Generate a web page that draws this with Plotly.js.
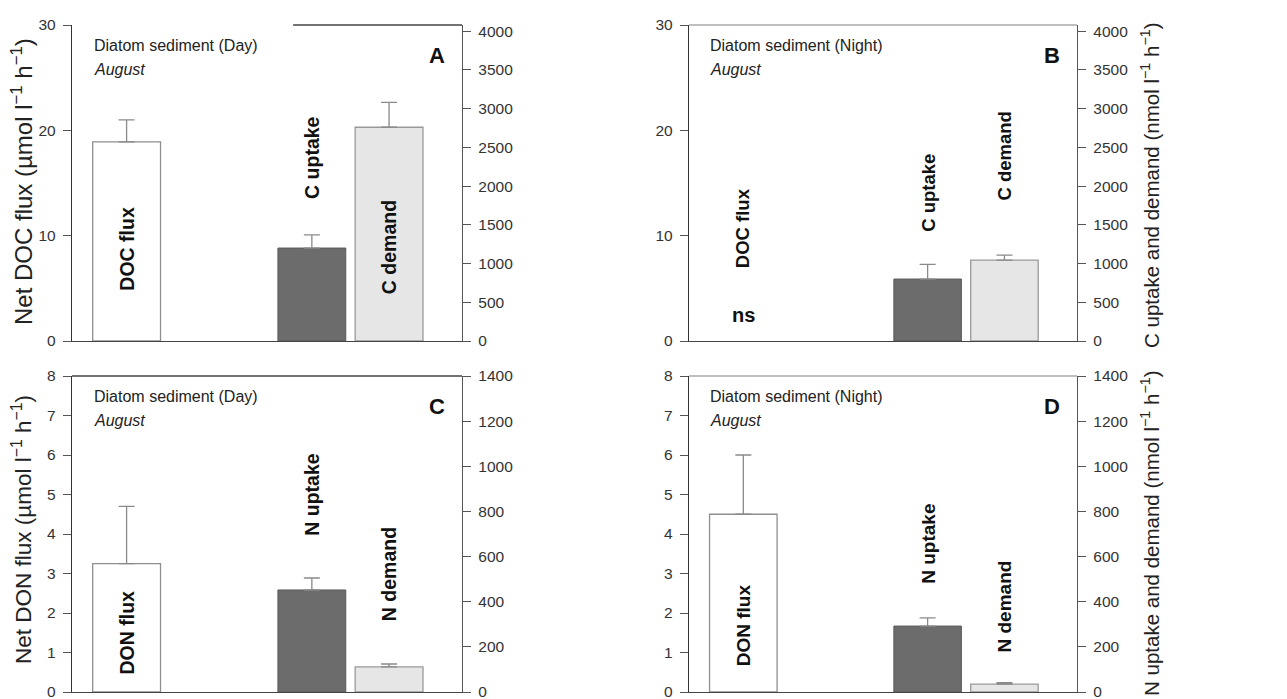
<!DOCTYPE html>
<html>
<head>
<meta charset="utf-8">
<script src="https://cdn.plot.ly/plotly-3.0.1.min.js"></script>
<style>html,body{margin:0;padding:0;background:#fff;}#chart{width:1287px;height:699px;}</style>
</head>
<body>
<div id="chart"></div>
<script>
// ---- Data ----
const panelLetters = ['A', 'B', 'C', 'D'];
const panelSubtitles = ['Diatom sediment (Day)', 'Diatom sediment (Night)', 'Diatom sediment (Day)', 'Diatom sediment (Night)'];
const panelMonth = ['August', 'August', 'August', 'August'];
const fluxLabels = ['DOC flux', 'DOC flux', 'DON flux', 'DON flux'];
const fluxValues = [18.9, null, 3.25, 4.5];          // µmol l-1 h-1 (left axis); B is ns
const fluxErrors = [2.1, null, 1.45, 1.5];
const uptakeLabels = ['C uptake', 'C uptake', 'N uptake', 'N uptake'];
const uptakeValues = [1200, 800, 452, 292];          // nmol l-1 h-1 (right axis)
const uptakeErrors = [170, 190, 53, 36];
const demandLabels = ['C demand', 'C demand', 'N demand', 'N demand'];
const demandValues = [2760, 1045, 111, 35];
const demandErrors = [320, 65, 13, 6];
const nsLabel = ['', 'ns', '', ''];
const leftTitles = ['Net DOC flux (µmol l<sup>−1</sup> h<sup>−1</sup>)', 'Net DON flux (µmol l<sup>−1</sup> h<sup>−1</sup>)'];
const rightTitles = ['C uptake and demand (nmol l<sup>−1</sup> h<sup>−1</sup>)', 'N uptake and demand (nmol l<sup>−1</sup> h<sup>−1</sup>)'];
const leftRanges = [[0, 30], [0, 30], [0, 8], [0, 8]];
const leftDtick = [10, 10, 1, 1];
const rightRanges = [[0, 4080], [0, 4080], [0, 1400], [0, 1400]];
const rightDtick = [500, 500, 200, 200];

// ---- Layout config (positions / styles) ----
const catPos = [1.4, 6.15, 8.13];   // category slots along x (range 0..10)
const barW = 1.74;
const W = 1287, H = 699;
const xDom = [[72 / W, 462 / W], [689 / W, 1077 / W], [72 / W, 462 / W], [689 / W, 1077 / W]];
const yDom = [[1 - 341 / H, 1 - 25 / H], [1 - 341 / H, 1 - 25 / H], [1 - 692 / H, 1 - 376 / H], [1 - 692 / H, 1 - 376 / H]];
const labelYFrac = [
  [0.291, 0.582, 0.297],
  [0.358, 0.468, 0.585],
  [0.187, 0.627, 0.373],
  [0.212, 0.468, 0.272]
];
const labelSize = [19.5, 18.5, 19.5, 19];
const FONT = 'Liberation Sans, Arial, sans-serif';
const tickFont = {family: FONT, size: 15.5, color: '#333'};
const errStyle = {color: '#8a8a8a', thickness: 1.3, width: 8};

const traces = [];
const layout = {
  width: W, height: H,
  margin: {l: 0, r: 0, t: 0, b: 0},
  paper_bgcolor: '#fff', plot_bgcolor: 'rgba(0,0,0,0)',
  showlegend: false,
  barmode: 'overlay',
  font: {family: FONT, color: '#222'},
  annotations: [],
  shapes: []
};

for (let i = 0; i < 4; i++) {
  const xi = i + 1, yl = 2 * i + 1, yr = 2 * i + 2;
  const xa = 'x' + (xi === 1 ? '' : xi);
  const yla = 'y' + (yl === 1 ? '' : yl);
  const yra = 'y' + yr;

  layout['xaxis' + (xi === 1 ? '' : xi)] = {
    domain: xDom[i], anchor: yla, range: [0, 10], fixedrange: true,
    showticklabels: false, ticks: '', showgrid: false, zeroline: false,
    showline: true, linecolor: '#444', linewidth: 1.2
  };
  layout['yaxis' + (yl === 1 ? '' : yl)] = {
    domain: yDom[i], anchor: xa, range: leftRanges[i], tickmode: 'linear', tick0: 0, dtick: leftDtick[i],
    ticks: 'outside', ticklen: 8, tickwidth: 1, tickcolor: '#555', ticklabelstandoff: 4,
    ticklabeloverflow: 'allow',
    showline: true, linecolor: '#333', linewidth: 1.2, showgrid: false, zeroline: false,
    tickfont: tickFont
  };
  layout['yaxis' + yr] = {
    domain: yDom[i], anchor: xa, overlaying: yla, side: 'right', range: rightRanges[i],
    tickmode: 'linear', tick0: 0, dtick: rightDtick[i],
    ticks: 'outside', ticklen: 8, tickwidth: 1, tickcolor: '#555', ticklabelstandoff: 4,
    ticklabeloverflow: 'allow',
    showline: true, linecolor: '#555', linewidth: 1.2, showgrid: false, zeroline: false,
    tickfont: tickFont
  };

  // top frame line
  const topColor = (i === 1 || i === 3) ? '#aaa' : '#444';
  layout.shapes.push({type: 'line', xref: xa + ' domain', yref: yla + ' domain',
    x0: i === 0 ? 0.567 : 0, x1: 1, y0: 1, y1: 1, line: {color: topColor, width: 1.4}});

  // flux bar (left axis) — B has no significant flux (null), trace kept so the left axis exists
  traces.push({type: 'bar', x: [catPos[0]], y: [fluxValues[i]], xaxis: xa, yaxis: yla,
    width: barW, marker: {color: '#ffffff', line: {color: '#8f8f8f', width: 1.3}},
    error_y: fluxErrors[i] === null ? {visible: false} :
      Object.assign({type: 'data', symmetric: false, array: [fluxErrors[i]], arrayminus: [0]}, errStyle),
    hoverinfo: 'skip'});
  // uptake bar (right axis)
  traces.push({type: 'bar', x: [catPos[1]], y: [uptakeValues[i]], xaxis: xa, yaxis: yra,
    width: barW, marker: {color: '#6c6c6c', line: {color: '#5a5a5a', width: 1}},
    error_y: Object.assign({type: 'data', symmetric: false, array: [uptakeErrors[i]], arrayminus: [0]}, errStyle),
    hoverinfo: 'skip'});
  // demand bar (right axis)
  traces.push({type: 'bar', x: [catPos[2]], y: [demandValues[i]], xaxis: xa, yaxis: yra,
    width: barW, marker: {color: '#e6e6e6', line: {color: '#9a9a9a', width: 1.3}},
    error_y: Object.assign({type: 'data', symmetric: false, array: [demandErrors[i]], arrayminus: [0]}, errStyle),
    hoverinfo: 'skip'});

  // bar labels
  const labs = [fluxLabels[i], uptakeLabels[i], demandLabels[i]];
  labs.forEach((t, k) => {
    layout.annotations.push({text: '<b>' + t + '</b>', xref: xa, yref: yla + ' domain',
      x: catPos[k], y: labelYFrac[i][k], textangle: -90, showarrow: false,
      xanchor: 'center', yanchor: 'middle', font: {family: FONT, size: labelSize[i], color: '#111'}});
  });
  if (nsLabel[i]) {
    layout.annotations.push({text: '<b>' + nsLabel[i] + '</b>', xref: xa, yref: yla + ' domain',
      x: catPos[0], y: 0.082, showarrow: false, xanchor: 'center', yanchor: 'middle',
      font: {family: FONT, size: 20, color: '#111'}});
  }
  // subtitle, month, panel letter
  layout.annotations.push({text: panelSubtitles[i], xref: xa + ' domain', yref: yla + ' domain',
    x: 0.05, y: 0.935, xanchor: 'left', yanchor: 'middle', showarrow: false,
    font: {family: FONT, size: 16, color: '#222'}});
  layout.annotations.push({text: '<i>' + panelMonth[i] + '</i>', xref: xa + ' domain', yref: yla + ' domain',
    x: 0.05, y: 0.858, xanchor: 'left', yanchor: 'middle', showarrow: false,
    font: {family: FONT, size: 16, color: '#222'}});
  layout.annotations.push({text: '<b>' + panelLetters[i] + '</b>', xref: xa + ' domain', yref: yla + ' domain',
    x: 0.936, y: 0.905, xanchor: 'center', yanchor: 'middle', showarrow: false,
    font: {family: FONT, size: 22, color: '#111'}});
}

// axis titles
layout.annotations.push({text: leftTitles[0], xref: 'paper', yref: 'paper', x: 22 / W, y: 1 - 182 / H,
  textangle: -90, showarrow: false, xanchor: 'center', yanchor: 'middle', font: {family: FONT, size: 24, color: '#222'}});
layout.annotations.push({text: leftTitles[1], xref: 'paper', yref: 'paper', x: 22 / W, y: 1 - 530 / H,
  textangle: -90, showarrow: false, xanchor: 'center', yanchor: 'middle', font: {family: FONT, size: 22.5, color: '#222'}});
layout.annotations.push({text: rightTitles[0], xref: 'paper', yref: 'paper', x: 1150 / W, y: 1 - 185 / H,
  textangle: -90, showarrow: false, xanchor: 'center', yanchor: 'middle', font: {family: FONT, size: 20.5, color: '#222'}});
layout.annotations.push({text: rightTitles[1], xref: 'paper', yref: 'paper', x: 1150 / W, y: 1 - 533 / H,
  textangle: -90, showarrow: false, xanchor: 'center', yanchor: 'middle', font: {family: FONT, size: 20.5, color: '#222'}});

Plotly.newPlot('chart', traces, layout, {staticPlot: true, displayModeBar: false});
</script>
</body>
</html>
